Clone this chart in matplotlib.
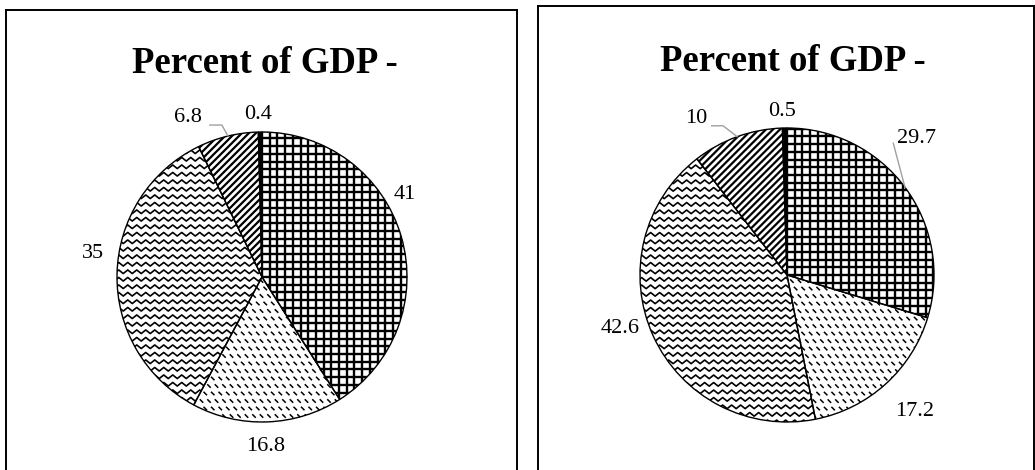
import numpy as np
import matplotlib
matplotlib.use("Agg")
import matplotlib.pyplot as plt
from matplotlib.collections import LineCollection

plt.rcParams['font.family'] = ['Liberation Serif', 'DejaVu Serif']

title = "Percent of GDP -"
left_values = [41, 16.8, 35, 6.8, 0.4]
right_values = [29.7, 17.2, 42.6, 10, 0.5]
left_labels = ["41", "16.8", "35", "6.8", "0.4"]
right_labels = ["29.7", "17.2", "42.6", "10", "0.5"]
textures = ["grid", "dash", "wave", "diag", "solid"]


def texture(kind, px):
    lim = 1.05
    segs = []
    if kind == "grid":
        for v in np.arange(0, lim, 7.7 * px).tolist() + (-np.arange(7.7 * px, lim, 7.7 * px)).tolist():
            segs.append([(v, -lim), (v, lim)])
            segs.append([(-lim, v), (lim, v)])
        return segs, 1.7
    if kind == "dash":
        for i, y in enumerate(np.arange(-lim, lim, 7.5 * px)):
            off = (i % 2) * 3.75 * px
            for x in np.arange(-lim + off, lim, 7.5 * px):
                segs.append([(x, y), (x + 3.5 * px, y - 3.5 * px)])
        return segs, 1.1
    if kind == "wave":
        xs = np.arange(-lim, lim, 4.5 * px)
        for y in np.arange(-lim, lim, 7.5 * px):
            ys = y + np.where(np.arange(len(xs)) % 2 == 0, 1.8, -1.8) * px
            segs.append(list(zip(xs, ys)))
        return segs, 1.2
    if kind == "diag":
        for c in np.arange(-2.2, 2.2, 7 * px):
            segs.append([(-lim, -lim + c), (lim, lim + c)])
        return segs, 1.6
    return segs, 1.0


def draw_pie(ax, values, labels, r_px, label_pos, leader):
    px = 1.0 / r_px
    wedges, _ = ax.pie(values, startangle=90, counterclock=False, radius=1,
                       frame=True,
                       wedgeprops=dict(facecolor="none", edgecolor="black",
                                       linewidth=1.0, zorder=3))
    for w, kind in zip(wedges, textures):
        if kind == "solid":
            w.set_facecolor("black")
            continue
        segs, lw = texture(kind, px)
        lc = LineCollection(segs, colors="black", linewidths=lw, zorder=2)
        ax.add_collection(lc)
        lc.set_clip_path(w)
    for lab, (x, y) in zip(labels, label_pos):
        ax.text(x, y, lab, fontsize=16, ha="center", va="center")
    for pts in leader:
        xs, ys = zip(*pts)
        ax.plot(xs, ys, color="#a0a0a0", lw=1.0, zorder=4)


fig = plt.figure(figsize=(10.35, 4.7), dpi=100)


def make_axes(x0, x1, y_top, cx, cy, r):
    # pixel box -> figure fraction, data scale 1 unit = r px
    ax = fig.add_axes([x0 / 1035, 0, (x1 - x0) / 1035, (470 - y_top) / 470])
    return ax, ((x0 - cx) / r, (x1 - cx) / r), ((cy - 470) / r, (cy - y_top) / r)


ax1, xl1, yl1 = make_axes(6, 517, 10, 262, 277, 145)
draw_pie(ax1, left_values, left_labels, 145,
         [(0.984, 0.566), (0.023, -1.17), (-1.163, 0.161), (-0.51, 1.10), (-0.028, 1.122)],
         [[(-0.36, 1.048), (-0.277, 1.048), (-0.236, 0.975)]])
ax1.text(0.02, 1.475, title, fontsize=26.5, fontweight="bold", ha="center", va="center")

ax2, xl2, yl2 = make_axes(538, 1034, 6, 787, 275, 147)
draw_pie(ax2, right_values, right_labels, 147,
         [(0.882, 0.930), (0.871, -0.930), (-1.136, -0.363), (-0.619, 1.066), (-0.036, 1.111)],
         [[(-0.512, 1.015), (-0.435, 1.015), (-0.339, 0.941)],
          [(0.723, 0.896), (0.803, 0.595)]])
ax2.text(0.04, 1.455, title, fontsize=26.5, fontweight="bold", ha="center", va="center")

for ax, xl, yl in [(ax1, xl1, yl1), (ax2, xl2, yl2)]:
    ax.set_aspect("auto")
    ax.set_xlim(*xl)
    ax.set_ylim(*yl)
    ax.set_xticks([])
    ax.set_yticks([])
    ax.spines["bottom"].set_visible(False)
    for s in ["top", "left", "right"]:
        ax.spines[s].set_linewidth(1.4)
        ax.spines[s].set_color("black")

fig.savefig("out.png", dpi=100)
